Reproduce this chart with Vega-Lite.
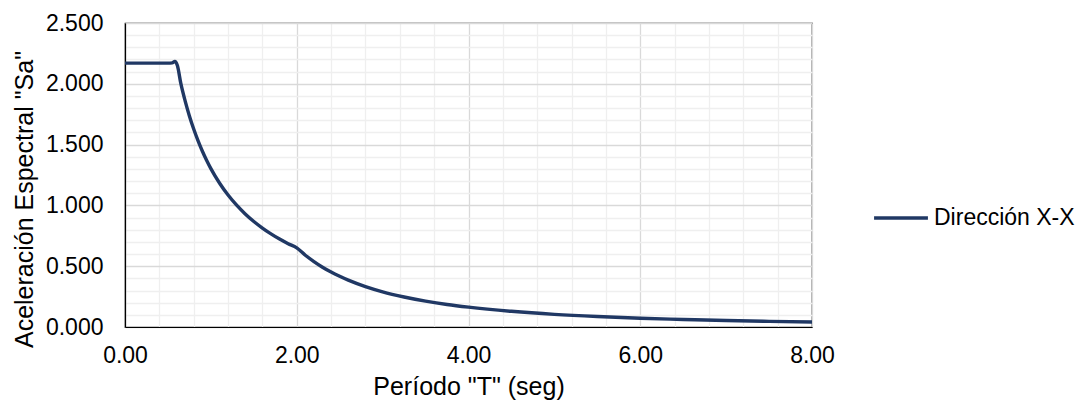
{
  "$schema": "https://vega.github.io/schema/vega-lite/v6.json",
  "width": 687,
  "height": 304,
  "autosize": {"type": "none"},
  "padding": {"left": 125, "top": 23, "right": 273, "bottom": 80},
  "background": "#ffffff",
  "config": {
    "font": "Liberation Sans",
    "view": {"stroke": "#000000", "strokeWidth": 1.2},
    "axis": {"labelFont": "Liberation Sans", "titleFont": "Liberation Sans", "labelColor": "#000000", "titleColor": "#000000", "titleFontWeight": "normal", "domainColor": "#000000", "domainWidth": 1.2, "ticks": false}
  },
  "data": {
    "values": [
      {"T": 0.0, "Sa": 2.170, "serie": "Dirección X-X"},
      {"T": 0.1, "Sa": 2.170, "serie": "Dirección X-X"},
      {"T": 0.2, "Sa": 2.170, "serie": "Dirección X-X"},
      {"T": 0.3, "Sa": 2.170, "serie": "Dirección X-X"},
      {"T": 0.4, "Sa": 2.170, "serie": "Dirección X-X"},
      {"T": 0.5, "Sa": 2.170, "serie": "Dirección X-X"},
      {"T": 0.55, "Sa": 2.172, "serie": "Dirección X-X"},
      {"T": 0.58, "Sa": 2.183, "serie": "Dirección X-X"},
      {"T": 0.61, "Sa": 2.150, "serie": "Dirección X-X"},
      {"T": 0.65, "Sa": 2.003, "serie": "Dirección X-X"},
      {"T": 0.7, "Sa": 1.860, "serie": "Dirección X-X"},
      {"T": 0.75, "Sa": 1.736, "serie": "Dirección X-X"},
      {"T": 0.8, "Sa": 1.628, "serie": "Dirección X-X"},
      {"T": 0.85, "Sa": 1.532, "serie": "Dirección X-X"},
      {"T": 0.9, "Sa": 1.447, "serie": "Dirección X-X"},
      {"T": 0.95, "Sa": 1.371, "serie": "Dirección X-X"},
      {"T": 1.0, "Sa": 1.302, "serie": "Dirección X-X"},
      {"T": 1.1, "Sa": 1.184, "serie": "Dirección X-X"},
      {"T": 1.2, "Sa": 1.085, "serie": "Dirección X-X"},
      {"T": 1.3, "Sa": 1.002, "serie": "Dirección X-X"},
      {"T": 1.4, "Sa": 0.930, "serie": "Dirección X-X"},
      {"T": 1.5, "Sa": 0.868, "serie": "Dirección X-X"},
      {"T": 1.6, "Sa": 0.814, "serie": "Dirección X-X"},
      {"T": 1.7, "Sa": 0.766, "serie": "Dirección X-X"},
      {"T": 1.8, "Sa": 0.723, "serie": "Dirección X-X"},
      {"T": 1.9, "Sa": 0.685, "serie": "Dirección X-X"},
      {"T": 2.0, "Sa": 0.651, "serie": "Dirección X-X"},
      {"T": 2.1, "Sa": 0.590, "serie": "Dirección X-X"},
      {"T": 2.2, "Sa": 0.538, "serie": "Dirección X-X"},
      {"T": 2.3, "Sa": 0.492, "serie": "Dirección X-X"},
      {"T": 2.4, "Sa": 0.452, "serie": "Dirección X-X"},
      {"T": 2.5, "Sa": 0.417, "serie": "Dirección X-X"},
      {"T": 2.6, "Sa": 0.385, "serie": "Dirección X-X"},
      {"T": 2.8, "Sa": 0.332, "serie": "Dirección X-X"},
      {"T": 3.0, "Sa": 0.289, "serie": "Dirección X-X"},
      {"T": 3.25, "Sa": 0.247, "serie": "Dirección X-X"},
      {"T": 3.5, "Sa": 0.213, "serie": "Dirección X-X"},
      {"T": 3.75, "Sa": 0.185, "serie": "Dirección X-X"},
      {"T": 4.0, "Sa": 0.163, "serie": "Dirección X-X"},
      {"T": 4.5, "Sa": 0.129, "serie": "Dirección X-X"},
      {"T": 5.0, "Sa": 0.104, "serie": "Dirección X-X"},
      {"T": 5.5, "Sa": 0.086, "serie": "Dirección X-X"},
      {"T": 6.0, "Sa": 0.072, "serie": "Dirección X-X"},
      {"T": 6.5, "Sa": 0.062, "serie": "Dirección X-X"},
      {"T": 7.0, "Sa": 0.053, "serie": "Dirección X-X"},
      {"T": 7.5, "Sa": 0.046, "serie": "Dirección X-X"},
      {"T": 8.0, "Sa": 0.041, "serie": "Dirección X-X"}
    ]
  },
  "mark": {"type": "line", "interpolate": "monotone", "strokeWidth": 3.4, "strokeCap": "round", "clip": true},
  "encoding": {
    "x": {
      "field": "T", "type": "quantitative",
      "scale": {"domain": [0, 8], "nice": false, "zero": false},
      "axis": {
        "values": [0, 0.4, 0.8, 1.2, 1.6, 2.0, 2.4, 2.8, 3.2, 3.6, 4.0, 4.4, 4.8, 5.2, 5.6, 6.0, 6.4, 6.8, 7.2, 7.6, 8.0],
        "format": ".2f",
        "labelExpr": "round(datum.value*10) % 20 === 0 ? format(datum.value, '.2f') : ''",
        "labelFontSize": 23,
        "labelPadding": 17,
        "labelFlush": false,
        "labelOverlap": false,
        "gridColor": {"condition": {"test": "round(datum.value*10) % 20 === 0", "value": "#d9d9d9"}, "value": "#efefef"},
        "gridWidth": 1.3,
        "title": "Período \"T\" (seg)",
        "titleFontSize": 25,
        "titlePadding": 7
      }
    },
    "y": {
      "field": "Sa", "type": "quantitative",
      "scale": {"domain": [0, 2.5], "nice": false},
      "axis": {
        "values": [0, 0.1, 0.2, 0.3, 0.4, 0.5, 0.6, 0.7, 0.8, 0.9, 1.0, 1.1, 1.2, 1.3, 1.4, 1.5, 1.6, 1.7, 1.8, 1.9, 2.0, 2.1, 2.2, 2.3, 2.4, 2.5],
        "labelExpr": "round(datum.value*10) % 5 === 0 ? format(datum.value, '.3f') : ''",
        "labelFontSize": 23,
        "labelPadding": 22,
        "labelFlush": false,
        "labelOverlap": false,
        "gridColor": {"condition": {"test": "round(datum.value*10) % 5 === 0", "value": "#d9d9d9"}, "value": "#efefef"},
        "gridWidth": 1.3,
        "title": "Aceleración Espectral \"Sa\"",
        "titleFontSize": 25,
        "titleAngle": 270,
        "titleX": -101,
        "titleY": 176,
        "titleAlign": "center",
        "titleBaseline": "middle"
      }
    },
    "color": {
      "field": "serie", "type": "nominal",
      "scale": {"range": ["#203864"]},
      "legend": {
        "title": null,
        "orient": "none",
        "legendX": 747,
        "legendY": 166,
        "symbolType": "stroke",
        "symbolSize": 2900,
        "symbolStrokeWidth": 3.5,
        "labelFontSize": 23,
        "labelFont": "Liberation Sans",
        "labelColor": "#000000",
        "labelOffset": 4
      }
    }
  }
}
